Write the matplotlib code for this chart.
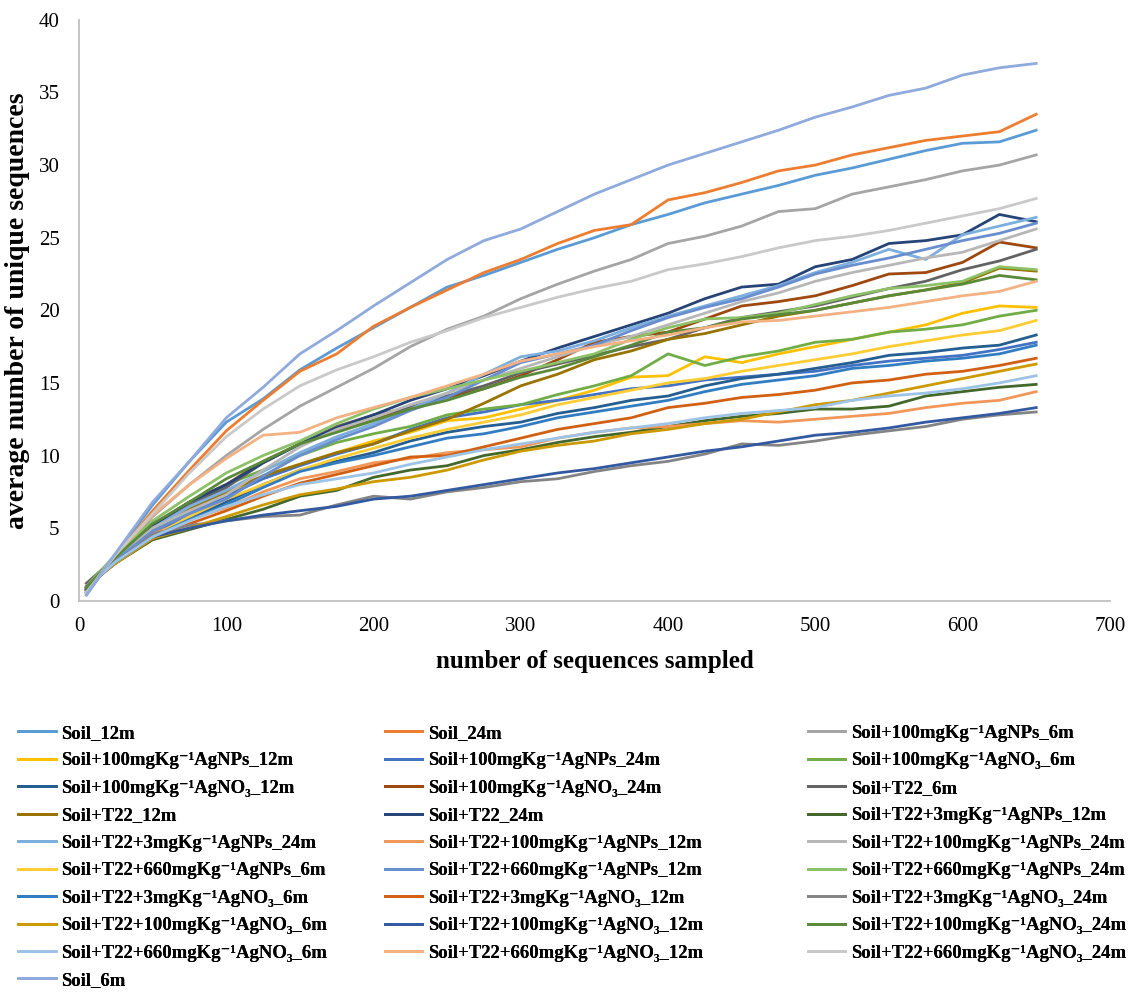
import matplotlib
matplotlib.use('Agg')
import matplotlib.pyplot as plt

plt.rcParams['font.family'] = ['Liberation Serif', 'DejaVu Serif']

# Sampling depth (number of sequences sampled)
x = [5, 15, 25, 50, 75, 100, 125, 150, 175, 200, 225, 250, 275, 300,
     325, 350, 375, 400, 425, 450, 475, 500, 525, 550, 575, 600, 625, 650]

# Average number of unique sequences per sample
soil_12m = [0.4, 1.8, 3.2, 6.6, 9.6, 12.3, 13.9, 15.9, 17.4, 18.8, 20.2, 21.6, 22.4, 23.3,
            24.2, 25.0, 25.9, 26.6, 27.4, 28.0, 28.6, 29.3, 29.8, 30.4, 31.0, 31.5, 31.6, 32.4]
soil_24m = [0.5, 1.9, 3.1, 6.2, 9.0, 11.7, 13.8, 15.8, 17.0, 18.9, 20.2, 21.4, 22.6, 23.5,
            24.6, 25.5, 25.9, 27.6, 28.1, 28.8, 29.6, 30.0, 30.7, 31.2, 31.7, 32.0, 32.3, 33.5]
agnps100_6m = [1.0, 2.0, 3.0, 5.8, 8.0, 10.0, 11.8, 13.4, 14.7, 16.0, 17.5, 18.7, 19.6, 20.8,
               21.8, 22.7, 23.5, 24.6, 25.1, 25.8, 26.8, 27.0, 28.0, 28.5, 29.0, 29.6, 30.0, 30.7]
agnps100_12m = [0.8, 1.9, 2.8, 4.6, 6.0, 7.4, 8.6, 9.4, 10.2, 11.0, 11.6, 12.4, 12.6, 13.2,
                13.8, 14.5, 15.4, 15.5, 16.8, 16.4, 17.0, 17.5, 18.0, 18.5, 19.0, 19.8, 20.3, 20.2]
agnps100_24m = [0.7, 1.8, 2.8, 4.6, 6.0, 7.2, 8.4, 9.3, 10.1, 10.8, 11.8, 12.6, 13.0, 13.5,
                13.8, 14.2, 14.6, 14.8, 15.2, 15.4, 15.6, 15.8, 16.2, 16.5, 16.7, 16.9, 17.3, 17.8]
agno3100_6m = [0.9, 2.0, 3.0, 5.2, 6.8, 8.0, 9.0, 10.0, 10.9, 11.5, 12.0, 12.8, 13.2, 13.5,
               14.2, 14.8, 15.5, 17.0, 16.2, 16.8, 17.2, 17.8, 18.0, 18.5, 18.7, 19.0, 19.6, 20.0]
agno3100_12m = [0.8, 1.8, 2.7, 4.3, 5.7, 6.8, 8.0, 9.0, 9.6, 10.2, 11.0, 11.6, 12.0, 12.3,
                12.9, 13.3, 13.8, 14.1, 14.8, 15.3, 15.6, 16.0, 16.4, 16.9, 17.1, 17.4, 17.6, 18.3]
agno3100_24m = [0.9, 2.0, 3.1, 5.2, 6.8, 8.0, 9.6, 10.8, 11.8, 12.5, 13.3, 14.0, 14.6, 15.5,
                16.6, 17.8, 18.2, 18.5, 19.4, 20.3, 20.6, 21.0, 21.7, 22.5, 22.6, 23.3, 24.7, 24.3]
t22_6m = [1.2, 2.1, 2.9, 5.0, 6.6, 7.8, 9.5, 10.8, 12.0, 12.8, 13.3, 14.1, 14.8, 15.7,
          16.3, 16.9, 17.5, 18.0, 18.8, 19.5, 19.9, 20.3, 20.9, 21.5, 22.0, 22.8, 23.4, 24.2]
t22_12m = [0.8, 1.9, 2.8, 4.8, 6.3, 7.5, 8.6, 9.4, 10.2, 10.8, 11.7, 12.5, 13.6, 14.8,
           15.6, 16.6, 17.2, 18.0, 18.4, 19.0, 19.6, 20.0, 20.5, 21.0, 21.4, 21.9, 22.9, 22.7]
t22_24m = [0.9, 2.0, 3.0, 5.2, 6.8, 8.0, 9.5, 10.8, 11.9, 12.8, 13.8, 14.6, 15.5, 16.5,
           17.4, 18.2, 19.0, 19.8, 20.8, 21.6, 21.8, 23.0, 23.5, 24.6, 24.8, 25.2, 26.6, 26.1]
t22_agnps3_12m = [0.8, 1.8, 2.6, 4.2, 4.9, 5.6, 6.3, 7.2, 7.6, 8.5, 9.0, 9.3, 10.0, 10.4,
                  10.9, 11.3, 11.6, 12.0, 12.4, 12.7, 12.9, 13.2, 13.2, 13.4, 14.1, 14.4, 14.7, 14.9]
t22_agnps3_24m = [0.6, 1.8, 2.9, 5.0, 6.5, 7.6, 8.9, 10.2, 11.3, 12.2, 13.2, 14.3, 15.6, 16.8,
                  17.2, 17.9, 18.8, 19.6, 20.3, 21.0, 21.7, 22.6, 23.3, 24.2, 23.5, 25.2, 25.8, 26.4]
t22_agnps100_12m = [0.7, 1.9, 2.8, 4.6, 5.6, 6.4, 7.5, 8.4, 8.9, 9.5, 9.8, 10.2, 10.4, 10.6,
                    11.2, 11.6, 11.9, 12.0, 12.2, 12.4, 12.3, 12.5, 12.7, 12.9, 13.3, 13.6, 13.8, 14.4]
t22_agnps100_24m = [0.8, 1.9, 2.9, 5.0, 6.2, 7.3, 9.0, 10.6, 11.8, 12.6, 13.5, 14.3, 15.2, 16.0,
                    16.8, 17.6, 18.2, 19.0, 19.8, 20.6, 21.2, 22.0, 22.6, 23.1, 23.6, 24.0, 24.8, 25.6]
t22_agnps660_6m = [0.7, 1.8, 2.7, 4.4, 5.8, 7.0, 8.0, 9.0, 9.8, 10.5, 11.2, 11.8, 12.3, 12.8,
                   13.5, 14.0, 14.5, 15.0, 15.3, 15.8, 16.2, 16.6, 17.0, 17.5, 17.9, 18.3, 18.6, 19.3]
t22_agnps660_12m = [0.6, 1.8, 2.8, 4.8, 6.0, 7.0, 8.6, 10.0, 11.1, 12.0, 13.1, 14.0, 15.2, 16.4,
                    17.0, 17.6, 18.6, 19.5, 20.2, 20.8, 21.6, 22.5, 23.1, 23.6, 24.2, 24.8, 25.3, 26.0]
t22_agnps660_24m = [1.0, 2.1, 3.2, 5.5, 7.2, 8.8, 10.0, 11.0, 12.2, 13.2, 14.0, 14.6, 15.2, 15.8,
                    16.4, 17.0, 18.0, 18.8, 19.4, 19.5, 19.8, 20.4, 21.0, 21.5, 21.7, 22.0, 23.0, 22.8]
t22_agno33_6m = [0.7, 1.8, 2.7, 4.4, 5.6, 6.6, 7.8, 8.9, 9.5, 10.0, 10.6, 11.2, 11.5, 12.0,
                 12.6, 13.0, 13.4, 13.8, 14.4, 14.9, 15.2, 15.5, 16.0, 16.2, 16.5, 16.7, 17.0, 17.6]
t22_agno33_12m = [0.6, 1.8, 2.6, 4.3, 5.3, 6.2, 7.2, 8.1, 8.7, 9.3, 9.9, 10.0, 10.6, 11.2,
                  11.8, 12.2, 12.6, 13.3, 13.6, 14.0, 14.2, 14.5, 15.0, 15.2, 15.6, 15.8, 16.2, 16.7]
t22_agno33_24m = [1.0, 1.9, 2.6, 4.6, 5.2, 5.5, 5.8, 5.9, 6.6, 7.2, 7.0, 7.5, 7.8, 8.2,
                  8.4, 8.9, 9.3, 9.6, 10.1, 10.8, 10.7, 11.0, 11.4, 11.7, 12.0, 12.5, 12.8, 13.0]
t22_agno3100_6m = [0.7, 1.8, 2.6, 4.3, 5.0, 5.8, 6.6, 7.3, 7.7, 8.2, 8.5, 9.0, 9.7, 10.3,
                   10.7, 11.0, 11.5, 11.8, 12.2, 12.5, 13.0, 13.5, 13.8, 14.3, 14.8, 15.3, 15.8, 16.3]
t22_agno3100_12m = [0.8, 1.8, 2.7, 4.4, 5.0, 5.5, 5.9, 6.2, 6.5, 7.0, 7.2, 7.6, 8.0, 8.4,
                    8.8, 9.1, 9.5, 9.9, 10.3, 10.6, 11.0, 11.4, 11.6, 11.9, 12.3, 12.6, 12.9, 13.3]
t22_agno3100_24m = [0.9, 2.0, 3.0, 5.3, 6.8, 8.4, 9.6, 10.8, 11.6, 12.4, 13.2, 13.8, 14.6, 15.4,
                    16.0, 16.8, 17.6, 18.5, 18.8, 19.4, 19.7, 20.0, 20.5, 21.0, 21.4, 21.8, 22.4, 22.1]
t22_agno3660_6m = [0.6, 1.8, 2.7, 4.4, 5.5, 6.5, 7.3, 8.0, 8.4, 8.8, 9.4, 9.9, 10.4, 10.8,
                   11.2, 11.6, 11.9, 12.2, 12.6, 12.9, 13.1, 13.3, 13.8, 14.1, 14.3, 14.6, 15.0, 15.5]
t22_agno3660_12m = [0.5, 1.9, 3.2, 5.9, 8.0, 9.8, 11.4, 11.6, 12.6, 13.3, 14.0, 14.8, 15.6, 16.5,
                    17.0, 17.5, 17.9, 18.3, 18.8, 19.2, 19.3, 19.6, 19.9, 20.2, 20.6, 21.0, 21.3, 22.0]
t22_agno3660_24m = [0.5, 1.9, 3.2, 6.0, 8.8, 11.3, 13.2, 14.8, 15.9, 16.8, 17.8, 18.6, 19.5, 20.2,
                    20.9, 21.5, 22.0, 22.8, 23.2, 23.7, 24.3, 24.8, 25.1, 25.5, 26.0, 26.5, 27.0, 27.7]
soil_6m = [0.4, 1.9, 3.3, 6.8, 9.6, 12.6, 14.7, 17.0, 18.6, 20.3, 21.9, 23.5, 24.8, 25.6,
           26.8, 28.0, 29.0, 30.0, 30.8, 31.6, 32.4, 33.3, 34.0, 34.8, 35.3, 36.2, 36.7, 37.0]

K = 'mgKg\u207b\u00b9'
NO3 = 'AgNO\u2083'
labels = [
    'Soil_12m', 'Soil_24m', f'Soil+100{K}AgNPs_6m',
    f'Soil+100{K}AgNPs_12m', f'Soil+100{K}AgNPs_24m', f'Soil+100{K}{NO3}_6m',
    f'Soil+100{K}{NO3}_12m', f'Soil+100{K}{NO3}_24m', 'Soil+T22_6m',
    'Soil+T22_12m', 'Soil+T22_24m', f'Soil+T22+3{K}AgNPs_12m',
    f'Soil+T22+3{K}AgNPs_24m', f'Soil+T22+100{K}AgNPs_12m', f'Soil+T22+100{K}AgNPs_24m',
    f'Soil+T22+660{K}AgNPs_6m', f'Soil+T22+660{K}AgNPs_12m', f'Soil+T22+660{K}AgNPs_24m',
    f'Soil+T22+3{K}{NO3}_6m', f'Soil+T22+3{K}{NO3}_12m', f'Soil+T22+3{K}{NO3}_24m',
    f'Soil+T22+100{K}{NO3}_6m', f'Soil+T22+100{K}{NO3}_12m', f'Soil+T22+100{K}{NO3}_24m',
    f'Soil+T22+660{K}{NO3}_6m', f'Soil+T22+660{K}{NO3}_12m', f'Soil+T22+660{K}{NO3}_24m',
    'Soil_6m',
]
series = [
    soil_12m, soil_24m, agnps100_6m,
    agnps100_12m, agnps100_24m, agno3100_6m,
    agno3100_12m, agno3100_24m, t22_6m,
    t22_12m, t22_24m, t22_agnps3_12m,
    t22_agnps3_24m, t22_agnps100_12m, t22_agnps100_24m,
    t22_agnps660_6m, t22_agnps660_12m, t22_agnps660_24m,
    t22_agno33_6m, t22_agno33_12m, t22_agno33_24m,
    t22_agno3100_6m, t22_agno3100_12m, t22_agno3100_24m,
    t22_agno3660_6m, t22_agno3660_12m, t22_agno3660_24m,
    soil_6m,
]
colors = [
    '#5B9BD5', '#ED7D31', '#A5A5A5', '#FFC000', '#4472C4', '#70AD47',
    '#255E91', '#9E480E', '#636363', '#997300', '#264478', '#43682B',
    '#7CAFDD', '#F1975A', '#B7B7B7', '#FFCD33', '#698ED0', '#8CC168',
    '#327DC2', '#D26012', '#848484', '#CC9A00', '#335AA1', '#5A8A39',
    '#9DC3E6', '#F4B183', '#C9C9C9', '#8FAADC',
]

fig = plt.figure(figsize=(11.29, 9.93), dpi=100)
ax = fig.add_axes([0.070, 0.395, 0.913, 0.585])

for y, lab, c in zip(series, labels, colors):
    ax.plot(x, y, color=c, lw=2.0, label=lab, solid_joinstyle='round')

ax.set_xlim(0, 700)
ax.set_ylim(0, 40)
ax.set_xticks(range(0, 701, 100))
ax.set_yticks(range(0, 41, 5))
ax.tick_params(axis='both', length=0, labelsize=15)
ax.tick_params(axis='x', pad=12)
ax.tick_params(axis='y', pad=14)
for s in ['top', 'right']:
    ax.spines[s].set_visible(False)
for s in ['left', 'bottom']:
    ax.spines[s].set_color('#BFBFBF')
    ax.spines[s].set_linewidth(1.3)

ax.set_xlabel('number of sequences sampled', fontsize=18, fontweight='bold', labelpad=10)
ax.set_ylabel('average number of unique sequences', fontsize=20, fontweight='bold', labelpad=6)

# legend filled row by row: one legend per column, three entries per row
handles, labs = ax.get_legend_handles_labels()
col_x = [0.001, 0.326, 0.7006]
for col, x0 in enumerate(col_x):
    leg = fig.legend(handles[col::3], labs[col::3], loc='upper left',
                     bbox_to_anchor=(x0, 0.287), frameon=False,
                     prop={'weight': 'bold', 'size': 13.5},
                     handlelength=2.0, handletextpad=0.3, labelspacing=0.55)
    fig.add_artist(leg)

fig.savefig('out.png', dpi=100)
